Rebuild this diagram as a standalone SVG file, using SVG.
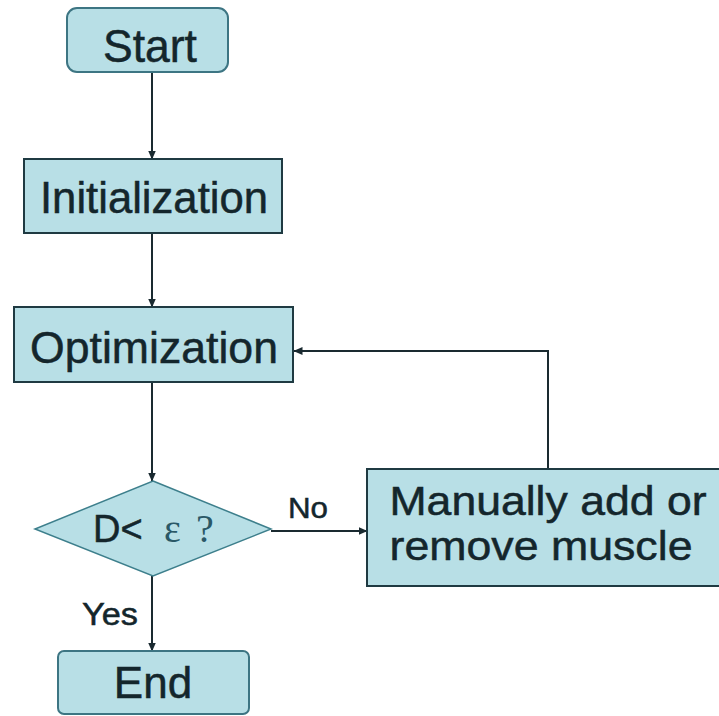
<svg xmlns="http://www.w3.org/2000/svg" width="719" height="716" viewBox="0 0 719 716">
<defs>
<marker id="arr" markerWidth="9" markerHeight="8" refX="8.5" refY="4" orient="auto" markerUnits="userSpaceOnUse">
<path d="M0,0 L9,4 L0,8 Z" fill="#1a2a30"/>
</marker>
</defs>
<style>
.box{fill:#b8dfe6;stroke:#1f3a42;stroke-width:2}
.term{fill:#b8dfe6;stroke:#3d7583;stroke-width:2}
.dia{fill:#b8dfe6;stroke:#3d7f8c;stroke-width:1.5}
.t{font-family:"Liberation Sans",Arial,sans-serif;fill:#14262c;stroke:#14262c;stroke-width:0.5;text-anchor:middle}
.s{font-family:"Liberation Serif","Times New Roman",serif;fill:#2a5866}
.c{fill:none;stroke:#1a2a30;stroke-width:2}
</style>
<rect width="719" height="716" fill="#ffffff"/>
<g id="connectors">
<line class="c" x1="152" y1="72" x2="152" y2="159" marker-end="url(#arr)"/>
<line class="c" x1="152" y1="233" x2="152" y2="307" marker-end="url(#arr)"/>
<line class="c" x1="152" y1="382" x2="152" y2="481" marker-end="url(#arr)"/>
<line class="c" x1="152" y1="576" x2="152" y2="651" marker-end="url(#arr)"/>
<line class="c" x1="271" y1="531" x2="367" y2="531" marker-end="url(#arr)"/>
<polyline class="c" points="548,469 548,351 294,351" marker-end="url(#arr)"/>
<text class="t" x="308" y="518" font-size="29" textLength="40" lengthAdjust="spacingAndGlyphs">No</text>
<text class="t" x="110" y="625" font-size="31" textLength="56" lengthAdjust="spacingAndGlyphs">Yes</text>
</g>
<g id="start">
<rect class="term" x="67" y="8" width="161" height="64" rx="10"/>
<text class="t" x="150" y="62" font-size="47" textLength="94" lengthAdjust="spacingAndGlyphs">Start</text>
</g>
<g id="init">
<rect class="box" x="24" y="159" width="258" height="74"/>
<text class="t" x="154" y="213" font-size="45" textLength="228" lengthAdjust="spacingAndGlyphs">Initialization</text>
</g>
<g id="opt">
<rect class="box" x="14" y="307" width="279" height="75"/>
<text class="t" x="154" y="363" font-size="45" textLength="248" lengthAdjust="spacingAndGlyphs">Optimization</text>
</g>
<g id="decision">
<polygon class="dia" points="153,481 271,529 153,576 35,529"/>
<text x="93" y="542" font-size="38" font-family="'Liberation Sans',Arial,sans-serif" fill="#14262c" stroke="#14262c" stroke-width="0.5">D&lt;</text>
<text class="s" x="164" y="542" font-size="40">ε</text>
<text class="s" x="196" y="542" font-size="40">?</text>
</g>
<g id="manual">
<rect class="box" x="367" y="469" width="360" height="117"/>
<text class="t" x="548" y="515" font-size="41" textLength="317" lengthAdjust="spacingAndGlyphs">Manually add or</text>
<text class="t" x="541" y="560" font-size="41" textLength="303" lengthAdjust="spacingAndGlyphs">remove muscle</text>
</g>
<g id="end">
<rect class="term" x="58" y="651" width="191" height="63" rx="6"/>
<text class="t" x="153" y="698" font-size="44">End</text>
</g>
</svg>
